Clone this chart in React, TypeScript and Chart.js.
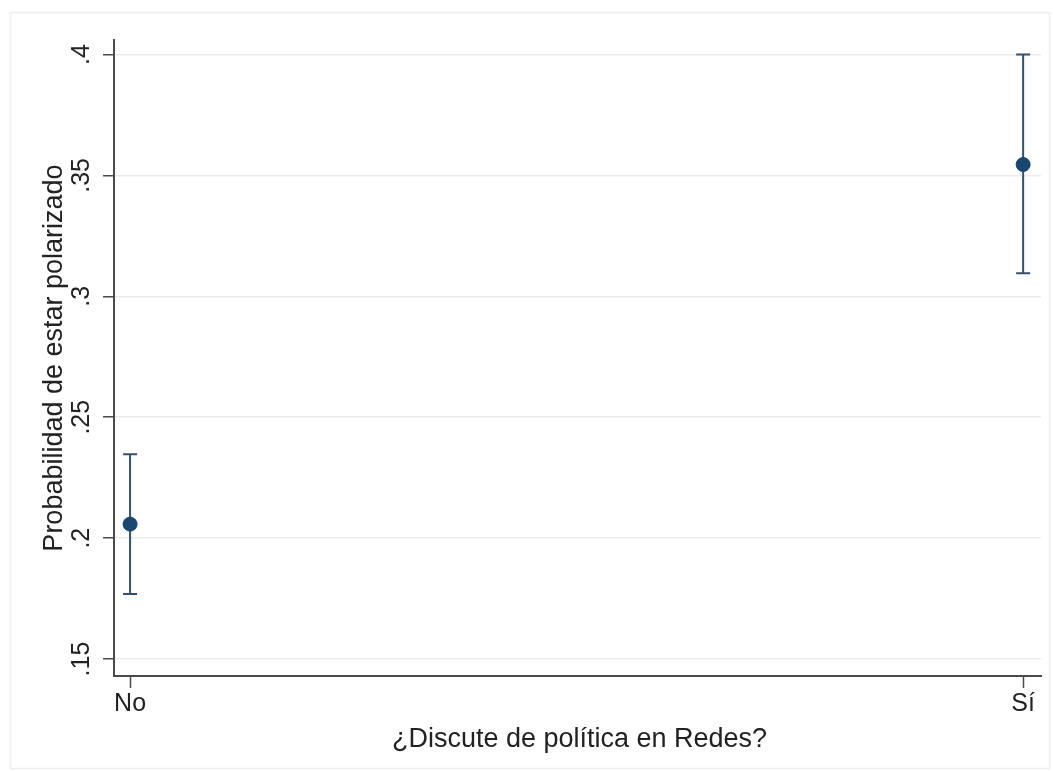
import React, { useEffect, useRef } from "react";
import { Chart, registerables } from "chart.js";

Chart.register(...registerables);

const categories = ["No", "Sí"];
const xValues = [0, 1];
const estimates = [0.2058, 0.3545];
const lowerCI = [0.1769, 0.3095];
const upperCI = [0.2347, 0.4];
const yTicks = [0.15, 0.2, 0.25, 0.3, 0.35, 0.4];
const yTickLabels = [".15", ".2", ".25", ".3", ".35", ".4"];
const xTitle = "¿Discute de política en Redes?";
const yTitle = "Probabilidad de estar polarizado";

const FONT = '"Liberation Sans", Arial, sans-serif';
const TEXT = "#222222";
const AXIS = "#4a4a4a";
const NAVY = "#1a476f";
const BAR = "#34506d";

export default function App() {
  const ref = useRef<HTMLCanvasElement | null>(null);

  useEffect(() => {
    document.body.style.margin = "0";
    const canvas = ref.current;
    if (!canvas) return;

    const textPlugin = {
      id: "customText",
      beforeDraw(chart: any) {
        const ctx = chart.ctx;
        ctx.save();
        ctx.fillStyle = "#ffffff";
        ctx.fillRect(0, 0, chart.width, chart.height);
        ctx.strokeStyle = "#efefef";
        ctx.lineWidth = 1.5;
        ctx.strokeRect(10.5, 12.5, 1039, 756);
        ctx.restore();
      },
      beforeDatasetsDraw(chart: any) {
        const ctx = chart.ctx;
        const xs = chart.scales.x;
        const ys = chart.scales.y;
        ctx.save();
        ctx.strokeStyle = BAR;
        ctx.lineWidth = 2;
        for (let i = 0; i < xValues.length; i++) {
          const px = xs.getPixelForValue(xValues[i]);
          const lo = ys.getPixelForValue(lowerCI[i]);
          const hi = ys.getPixelForValue(upperCI[i]);
          ctx.beginPath();
          ctx.moveTo(px, lo);
          ctx.lineTo(px, hi);
          ctx.moveTo(px - 7, lo);
          ctx.lineTo(px + 7, lo);
          ctx.moveTo(px - 7, hi);
          ctx.lineTo(px + 7, hi);
          ctx.stroke();
        }
        ctx.restore();
      },
      afterDraw(chart: any) {
        const ctx = chart.ctx;
        const xs = chart.scales.x;
        const ys = chart.scales.y;
        const area = chart.chartArea;
        ctx.save();
        ctx.fillStyle = TEXT;
        // y tick labels (rotated)
        ctx.font = `25px ${FONT}`;
        ctx.textAlign = "center";
        ctx.textBaseline = "alphabetic";
        yTicks.forEach((v, i) => {
          const py = ys.getPixelForValue(v);
          ctx.save();
          ctx.translate(89, py);
          ctx.rotate(-Math.PI / 2);
          ctx.fillText(yTickLabels[i], 0, 0);
          ctx.restore();
        });
        // x tick labels
        ctx.textBaseline = "alphabetic";
        xValues.forEach((v, i) => {
          const px = xs.getPixelForValue(v);
          ctx.fillText(categories[i], px, 711);
        });
        // titles
        ctx.font = `27px ${FONT}`;
        ctx.fillText(xTitle, (area.left + area.right) / 2 + 2, 747);
        ctx.save();
        ctx.translate(62, (area.top + area.bottom) / 2);
        ctx.rotate(-Math.PI / 2);
        ctx.fillText(yTitle, 0, 0);
        ctx.restore();
        ctx.restore();
      },
    };

    const chart = new Chart(canvas, {
      type: "scatter",
      data: {
        datasets: [
          {
            label: "Probabilidad",
            data: xValues.map((x, i) => ({ x, y: estimates[i] })),
            pointRadius: 7,
            pointHoverRadius: 7,
            pointBackgroundColor: NAVY,
            pointBorderColor: NAVY,
            pointBorderWidth: 1,
          },
        ],
      },
      options: {
        responsive: false,
        animation: false,
        events: [],
        layout: { padding: { left: 0, top: 40, right: 12, bottom: 0 } },
        plugins: {
          legend: { display: false },
          tooltip: { enabled: false },
          title: { display: false },
        },
        scales: {
          x: {
            type: "linear",
            min: -0.018,
            max: 1.02,
            afterBuildTicks: (scale: any) => {
              scale.ticks = xValues.map((v) => ({ value: v }));
            },
            afterFit: (scale: any) => {
              scale.height = 95;
            },
            ticks: { display: false },
            grid: {
              drawOnChartArea: false,
              drawTicks: true,
              tickLength: 12,
              tickColor: AXIS,
              tickWidth: 1.5,
            },
            border: { display: true, color: AXIS, width: 2 },
          },
          y: {
            type: "linear",
            min: 0.143,
            max: 0.406,
            afterBuildTicks: (scale: any) => {
              scale.ticks = yTicks.map((v) => ({ value: v }));
            },
            afterFit: (scale: any) => {
              scale.width = 114;
            },
            ticks: { display: false },
            grid: {
              color: "#ebebeb",
              lineWidth: 1.5,
              drawTicks: true,
              tickLength: 11,
              tickColor: AXIS,
              tickWidth: 1.5,
            },
            border: { display: true, color: AXIS, width: 2 },
          },
        },
      },
      plugins: [textPlugin],
    } as any);

    return () => {
      chart.destroy();
    };
  }, []);

  return (
    <div style={{ width: 1053, height: 771 }}>
      <canvas ref={ref} width={1053} height={771} style={{ display: "block" }} />
    </div>
  );
}
